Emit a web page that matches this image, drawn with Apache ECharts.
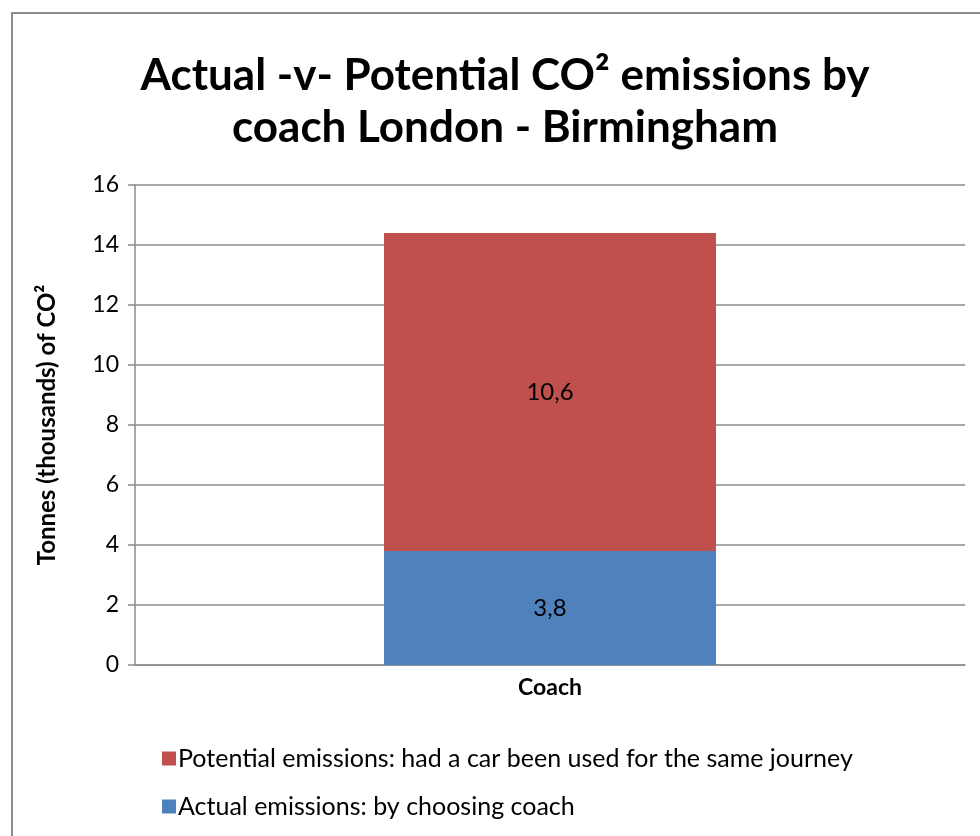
<!DOCTYPE html>
<html>
<head>
<meta charset="utf-8">
<script src="https://cdn.jsdelivr.net/npm/echarts@6/dist/echarts.min.js"></script>
<style>
  html, body { margin: 0; padding: 0; background: #fff; }
  #chart { width: 980px; height: 836px; }
</style>
</head>
<body>
<div id="chart"></div>
<script>
const categories = ['Coach']
const actualValues = [3.8]
const potentialValues = [10.6]
const seriesNames = [
  'Actual emissions: by choosing coach',
  'Potential emissions: had a car been used for the same journey'
]
const legendOrder = [seriesNames[1], seriesNames[0]]

const font = 'Lato, "Open Sans", sans-serif'
const fmt = p => String(p.value).replace('.', ',')

const chart = echarts.init(document.getElementById('chart'), null, { renderer: 'canvas' })

chart.setOption({
  animation: false,
  textStyle: { fontFamily: font },
  graphic: [{
    type: 'rect',
    shape: { x: 12, y: 13, width: 990, height: 850 },
    style: { fill: 'none', stroke: '#8c8c8c', lineWidth: 2 },
    silent: true
  }],
  title: {
    text: 'Actual -v- Potential CO² emissions by\ncoach London - Birmingham',
    left: 500,
    textAlign: 'center',
    top: 45,
    textStyle: { fontFamily: font, fontSize: 44, fontWeight: 'bold', color: '#000', lineHeight: 52 }
  },
  legend: {
    orient: 'vertical',
    left: 157,
    top: 741,
    itemGap: 23,
    itemWidth: 14,
    itemHeight: 14,
    icon: 'rect',
    data: legendOrder,
    textStyle: { fontFamily: font, fontSize: 25, color: '#000', padding: [0, 0, 0, -3] }
  },
  grid: { left: 135, right: 15, top: 185, bottom: 171 },
  xAxis: {
    type: 'category',
    data: categories,
    axisLine: { lineStyle: { color: '#8c8c8c', width: 1.5 } },
    axisTick: { show: false },
    axisLabel: { fontFamily: font, fontSize: 23, fontWeight: 'bold', color: '#000', margin: 11 }
  },
  yAxis: {
    type: 'value',
    min: 0,
    max: 16,
    interval: 2,
    name: 'Tonnes (thousands) of CO²',
    nameLocation: 'middle',
    nameGap: 76,
    nameTextStyle: { fontFamily: font, fontSize: 24, fontWeight: 'bold', color: '#000' },
    axisLine: { show: true, lineStyle: { color: '#8c8c8c', width: 1.5 } },
    axisTick: { show: true, length: 7, lineStyle: { color: '#8c8c8c', width: 1.5 } },
    axisLabel: { fontFamily: font, fontSize: 23, color: '#000', margin: 16 },
    splitLine: { lineStyle: { color: '#8c8c8c', width: 1.5 } }
  },
  series: [
    {
      name: seriesNames[0],
      type: 'bar',
      stack: 'total',
      data: actualValues,
      barWidth: '40%',
      itemStyle: { color: '#4f81bd' },
      label: { show: true, position: 'inside', formatter: fmt, fontFamily: font, fontSize: 24, color: '#000' }
    },
    {
      name: seriesNames[1],
      type: 'bar',
      stack: 'total',
      data: potentialValues,
      barWidth: '40%',
      itemStyle: { color: '#c0504d' },
      label: { show: true, position: 'inside', formatter: fmt, fontFamily: font, fontSize: 24, color: '#000' }
    }
  ]
})

window.addEventListener('resize', () => chart.resize())
</script>
</body>
</html>
